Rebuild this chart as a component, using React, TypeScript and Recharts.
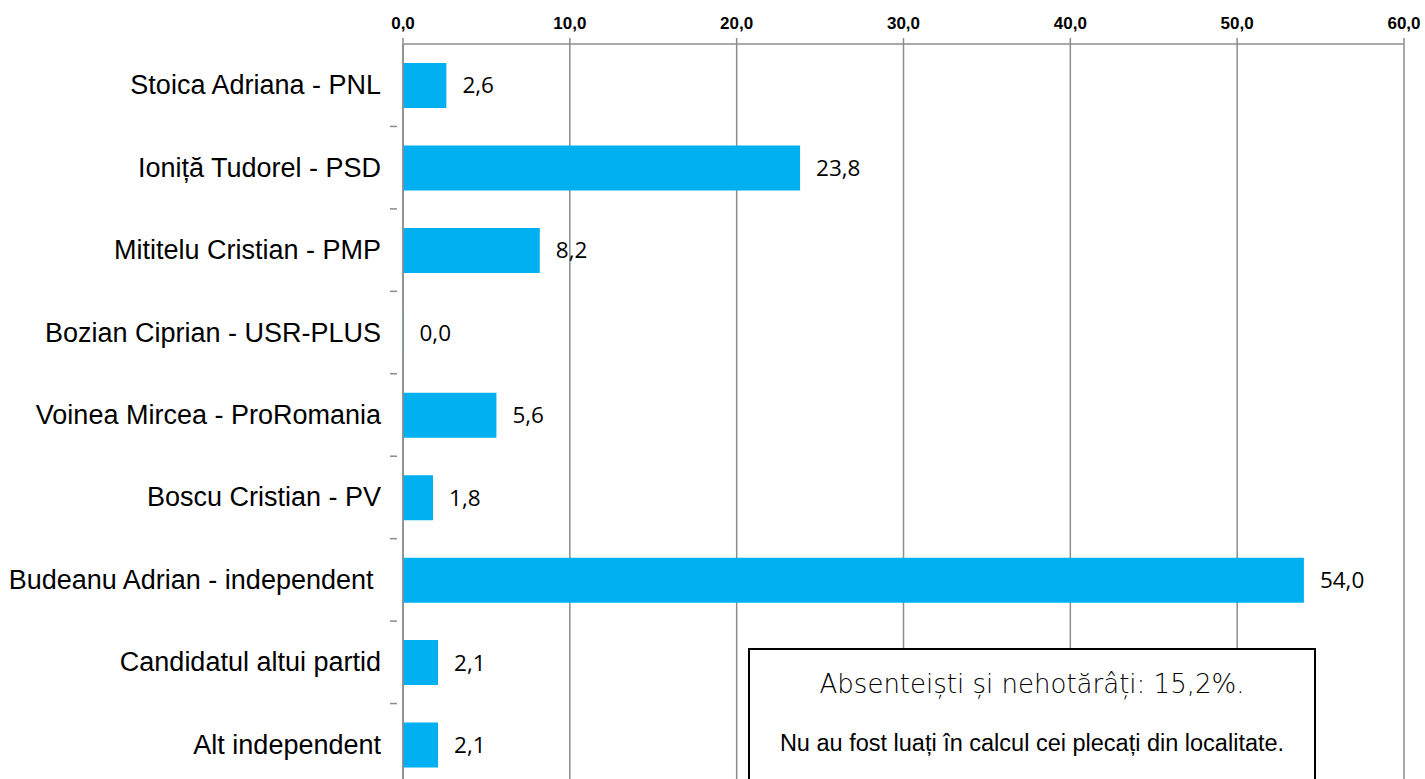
import React from 'react';
import { BarChart, Bar, XAxis, YAxis, CartesianGrid, LabelList } from 'recharts';

const candidates = [
  'Stoica Adriana - PNL',
  'Ioniță Tudorel - PSD',
  'Mititelu Cristian - PMP',
  'Bozian Ciprian - USR-PLUS',
  'Voinea Mircea - ProRomania',
  'Boscu Cristian - PV',
  'Budeanu Adrian - independent ',
  'Candidatul altui partid',
  'Alt independent',
];
const percents = [2.6, 23.8, 8.2, 0.0, 5.6, 1.8, 54.0, 2.1, 2.1];
const xTicks = [0, 10, 20, 30, 40, 50, 60];

const noteTitle = 'Absenteiști și nehotărâți: 15,2%.';
const noteText = 'Nu au fost luați în calcul cei plecați din localitate.';

const data = candidates.map((name, i) => ({ name, value: percents[i] }));

const fmt = (v: number) => v.toFixed(1).replace('.', ',');

const CHART_W = 1425;
const CHART_H = 786;
const TOP = 44;
const BAND = (CHART_H - TOP) / candidates.length;

const YTick = (props: any) => {
  const { x, y, payload } = props;
  return (
    <g>
      <line x1={x - 5} x2={x + 2} y1={y + BAND / 2} y2={y + BAND / 2} stroke="#8c8c8c" strokeWidth={1.5} />
      <text x={x - 14} y={y} dy={9} textAnchor="end" fontFamily="Arial, 'Liberation Sans'" fontSize={27} fill="#000" style={{ whiteSpace: 'pre' }}>
        {payload.value}
      </text>
    </g>
  );
};

const App: React.FC = () => {
  return (
    <div style={{ position: 'absolute', left: 0, top: 0, width: CHART_W, height: 779, overflow: 'hidden', background: '#fff' }}>
      <BarChart
        width={CHART_W}
        height={CHART_H}
        data={data}
        layout="vertical"
        margin={{ top: 0, right: 21, left: 0, bottom: 0 }}
        barSize={45}
      >
        <CartesianGrid vertical={true} horizontal={false} stroke="#8c8c8c" strokeWidth={1.5} />
        <XAxis
          type="number"
          orientation="top"
          domain={[0, 60]}
          ticks={xTicks}
          height={TOP}
          axisLine={{ stroke: '#8c8c8c', strokeWidth: 1.5 }}
          tickLine={{ stroke: '#8c8c8c', strokeWidth: 1.5 }}
          tickSize={6}
          tickMargin={9}
          tickFormatter={(v: number) => fmt(v)}
          tick={{ fontFamily: "Arial, 'Liberation Sans'", fontWeight: 'bold', fontSize: 17, fill: '#000' }}
          interval={0}
        />
        <YAxis
          type="category"
          dataKey="name"
          width={403}
          axisLine={{ stroke: '#8c8c8c', strokeWidth: 1.5 }}
          tickLine={false}
          tick={<YTick />}
          interval={0}
        />
        <Bar dataKey="value" fill="#00B0F0" minPointSize={0.5} isAnimationActive={false}>
          <LabelList
            dataKey="value"
            position="right"
            offset={16}
            formatter={(v: any) => fmt(Number(v))}
            style={{ fontFamily: "'Open Sans', sans-serif", fontSize: 22.5, fill: '#000' }}
          />
        </Bar>
      </BarChart>
      <div
        style={{
          position: 'absolute',
          left: 748,
          top: 648,
          width: 564,
          height: 160,
          border: '2px solid #000',
          background: '#fff',
          textAlign: 'center',
        }}
      >
        <div style={{ fontFamily: "'DejaVu Sans', sans-serif", fontWeight: 300, fontSize: 26, lineHeight: '30px', marginTop: 19, color: '#000' }}>
          {noteTitle}
        </div>
        <div style={{ fontFamily: "Arial, 'Liberation Sans', sans-serif", fontSize: 23.5, lineHeight: '28px', marginTop: 30, color: '#000' }}>
          {noteText}
        </div>
      </div>
    </div>
  );
};

export default App;
